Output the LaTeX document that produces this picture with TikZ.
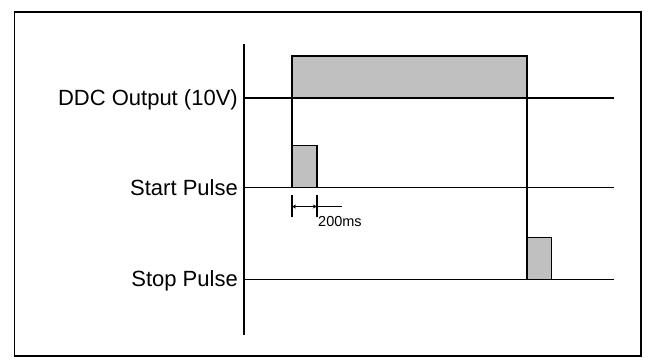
\documentclass[tikz,border=0pt]{standalone}
\usepackage{fontspec}
\setmainfont{Liberation Sans}
\usetikzlibrary{arrows.meta, positioning, calc}
\definecolor{pulsegray}{HTML}{C0C0C0}
\tikzset{
  sig/.style={line width=1.4pt},
  pulse/.style={draw=black, fill=pulsegray, line width=1.4pt},
  rowlbl/.style={anchor=base east, inner sep=0pt,
                 font=\fontsize{22}{24}\selectfont},
  dimarr/.style={line width=1pt, {Stealth[length=4pt,width=4pt]}-{Stealth[length=4pt,width=4pt]}}
}
\begin{document}
\begin{tikzpicture}[
    x=1pt, y=-1pt,
    dimlbl/.style={anchor=base west, inner sep=0pt,
                   font=\fontsize{14.5}{16}\selectfont}
  ]
  \useasboundingbox (0,0) rectangle (655,360);
  \draw[line width=1.5pt] (14.7,12) rectangle (641,356);

  \coordinate (axtop) at (244,44);
  \coordinate (axbot) at (244,335);
  \coordinate (ddc)   at (244,98);
  \coordinate (start) at (244,187.7);
  \coordinate (stop)  at (244,279.3);

  \fill[pulsegray] (292,56) rectangle (527,98);
  \fill[pulsegray] (292,145.7) rectangle (316.8,187.7);
  \fill[pulsegray] (527,237.7) rectangle (551.5,279.3);

  \draw[sig] (axtop) -- (axbot);
  \draw[sig] (ddc) -- (614,98);
  \draw[sig] (start) -- (614,187.7);
  \draw[sig] (stop) -- (614,279.3);

  \draw[sig] (292,187.7) -- (292,56) -- (527,56) -- (527,279.3);
  \draw[sig] (292,145.7) -- (316.8,145.7) -- (316.8,187.7);
  \draw[sig] (527,237.7) -- (551.5,237.7) -- (551.5,279.3);

  \node[rowlbl] (ddclbl)   at ($(ddc)+(-6,7.5)$)   {DDC Output (10V)};
  \node[rowlbl] (startlbl) at ($(start)+(-6,7.5)$) {Start Pulse};
  \node[rowlbl] (stoplbl)  at ($(stop)+(-6,7.5)$)  {Stop Pulse};

  \coordinate (ta) at (292,206.5);
  \coordinate (tb) at (316.8,206.5);
  \draw[sig] (292,195) -- (292,217);
  \draw[sig] (316.8,195) -- (316.8,217);
  \draw[dimarr] (ta) -- (tb);
  \draw[sig] (tb) -- (342,206.5);
  \node[dimlbl] (dur) at (318,226.5) {200ms};
\end{tikzpicture}
\end{document}
